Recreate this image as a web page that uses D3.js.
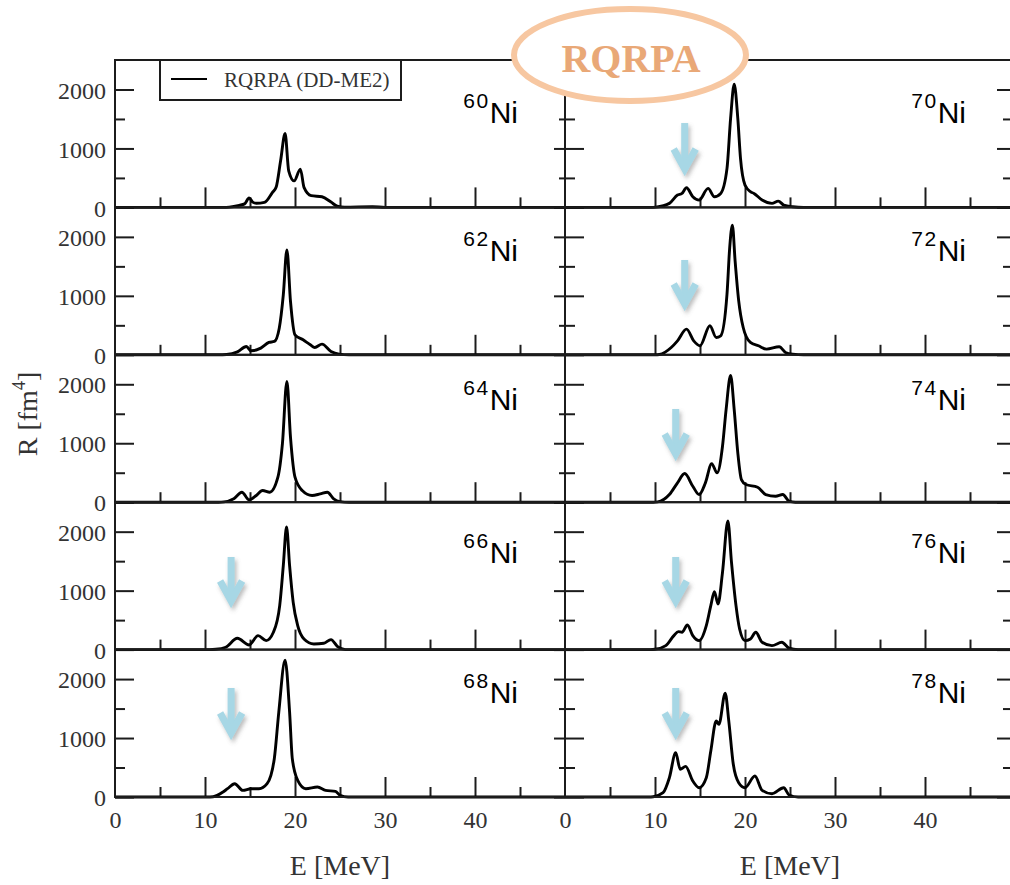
<!DOCTYPE html>
<html>
<head>
<meta charset="utf-8">
<script src="https://cdn.jsdelivr.net/npm/d3@7"></script>
<style>
  html, body { margin: 0; padding: 0; background: #fff; }
  svg { display: block; }
</style>
</head>
<body>
<svg id="chart" width="1010" height="885"></svg>
<script>
// ---- data ---------------------------------------------------------------
// Mass numbers of the Ni isotopes (left column 60-68, right column 70-78)
const massNumbers = ["60", "62", "64", "66", "68", "70", "72", "74", "76", "78"];

// Strength functions R(E) as [E (MeV), R (fm^4)] pairs
const ni60 = [[0,0],[12.0,0],[12.7,5],[13.8,35],[14.4,60],[14.9,160],[15.3,90],[15.7,70],[16.6,85],[17.5,255],[17.9,340],[18.4,790],[18.9,1255],[19.3,620],[19.9,450],[20.6,650],[21.0,340],[21.8,200],[23.0,180],[24.0,90],[24.7,20],[25.5,5],[28.6,12],[30,0],[50,0]];
const ni62 = [[0,0],[11.5,0],[12.4,5],[13.6,50],[14.6,141],[15.1,68],[16.2,113],[17.1,209],[17.7,226],[18.25,452],[18.7,1017],[19.1,1780],[19.5,904],[20.0,339],[20.9,254],[21.7,170],[22.2,124],[23.0,181],[24.0,56],[24.9,11],[26,0],[50,0]];
const ni64 = [[0,0],[11.5,0],[12.1,5],[13.2,60],[14.1,170],[14.9,40],[15.7,113],[16.4,198],[17.2,170],[18.1,424],[18.6,989],[19.1,2050],[19.5,1100],[20.0,424],[20.8,198],[21.9,113],[22.8,141],[23.6,170],[24.3,56],[25.0,10],[26,0],[50,0]];
const ni66 = [[0,0],[10.5,0],[11.2,5],[12.3,40],[13.6,192],[14.9,79],[15.9,237],[16.8,153],[17.6,294],[18.3,746],[18.7,1424],[19.06,2080],[19.4,1424],[19.8,802],[20.3,407],[21.0,181],[22.1,96],[23.2,107],[24.0,170],[24.7,56],[25.6,0],[50,0]];
const ni68 = [[0,0],[10.2,0],[10.9,5],[12.0,85],[12.5,141],[13.3,226],[14.2,113],[15.1,141],[16.0,141],[16.9,226],[17.7,650],[18.2,1441],[18.9,2320],[19.4,1441],[19.7,650],[20.3,282],[21.2,141],[22.5,170],[23.4,113],[24.5,96],[25.0,28],[25.9,0],[50,0]];
const ni70 = [[0,0],[9.5,0],[10.1,5],[11.6,68],[12.5,209],[13.0,237],[13.5,333],[14.2,181],[14.9,124],[15.9,322],[16.6,181],[17.3,237],[18.0,661],[18.4,1508],[18.8,2090],[19.2,1508],[19.5,830],[20.0,378],[20.6,266],[21.0,237],[21.9,124],[23.0,68],[23.7,107],[24.3,40],[25.3,11],[26.5,0],[50,0]];
const ni72 = [[0,0],[10.0,0],[10.5,5],[11.8,124],[12.5,237],[13.5,435],[14.3,237],[15.0,153],[16.1,492],[16.8,294],[17.3,322],[18.0,1028],[18.3,1819],[18.6,2200],[18.9,1593],[19.3,915],[19.8,463],[20.6,209],[21.5,153],[22.4,96],[23.8,136],[24.5,40],[25.3,11],[26.5,0],[50,0]];
const ni74 = [[0,0],[9.8,0],[10.3,5],[11.6,130],[12.5,328],[13.3,486],[14.2,271],[14.9,130],[15.6,328],[16.3,655],[16.9,497],[17.5,949],[17.9,1571],[18.4,2150],[18.8,1571],[19.2,836],[19.6,384],[20.1,300],[21.4,254],[22.3,130],[23.4,102],[24.2,130],[24.9,17],[25.6,0],[50,0]];
const ni76 = [[0,0],[9.5,0],[10.0,5],[11.2,68],[12.1,237],[12.6,305],[13.0,294],[13.6,418],[14.2,237],[14.9,153],[15.7,407],[16.2,746],[16.6,983],[17.0,774],[17.5,1311],[18.1,2180],[18.5,1480],[19.0,746],[19.4,350],[20.0,153],[20.6,181],[21.2,294],[21.9,124],[23.0,68],[24.1,124],[24.9,23],[25.9,0],[50,0]];
const ni78 = [[0,0],[9.3,0],[9.8,5],[10.9,73],[11.6,328],[12.3,751],[12.8,470],[13.4,520],[14.2,271],[14.9,158],[15.7,328],[16.2,780],[16.8,1288],[17.1,1232],[17.8,1760],[18.2,1288],[18.7,554],[19.3,243],[20.0,158],[21.1,356],[21.9,113],[23.0,56],[24.3,158],[24.9,34],[25.9,0],[50,0]];
const spectra = [ni60, ni62, ni64, ni66, ni68, ni70, ni72, ni74, ni76, ni78];

// Highlighted low-lying strength: arrow energy and its span in R (null = none)
const arrowEnergy = [null, null, null, 12.9, 12.9, 13.3, 13.3, 12.3, 12.3, 12.3];
const arrowTipR   = [null, null, null, 756, 1018, 583, 794, 750, 756, 1018];
const arrowTailR  = [null, null, null, 1571, 1849, 1431, 1608, 1581, 1571, 1849];

// Axis ticks
const energyMajor = [10, 20, 30, 40];
const energyMinor = [5, 15, 25, 35, 45];
const energyLabels = [0, 10, 20, 30, 40];
const strengthMajor = [0, 1000, 2000];
const strengthMinor = [500, 1500];

// ---- layout -------------------------------------------------------------
const svg = d3.select("#chart");
const colLeft = [115, 565];
const panelW = 450, panelH = 147.4, top0 = 60;
const labelBaseline = [123, 261, 410, 563, 703];
const serif = "'Liberation Serif', 'Times New Roman', serif";
const sans = "'Liberation Sans', Arial, sans-serif";
const ink = "#1c1c1c";

const defs = svg.append("defs");
const shadow = defs.append("filter").attr("id", "arrowShadow")
  .attr("x", "-50%").attr("y", "-50%").attr("width", "200%").attr("height", "200%");
shadow.append("feDropShadow").attr("dx", 2).attr("dy", 3).attr("stdDeviation", 2)
  .attr("flood-color", "#6b6b6b").attr("flood-opacity", 0.45);

const soft = defs.append("filter").attr("id", "soft");
soft.append("feGaussianBlur").attr("stdDeviation", 0.45);

function tickStyle(g) {
  g.select(".domain").remove();
  g.selectAll(".tick text").remove();
  g.selectAll(".tick line").attr("stroke", ink).attr("stroke-width", 2);
}

const lineGen = d3.line().curve(d3.curveMonotoneX);

massNumbers.forEach((A, i) => {
  const col = i < 5 ? 0 : 1;
  const row = i % 5;
  const x0 = colLeft[col];
  const y0 = top0 + row * panelH;
  const x = d3.scaleLinear().domain([0, 50]).range([x0, x0 + panelW]);
  const y = d3.scaleLinear().domain([0, 2500]).range([y0 + panelH, y0]);
  const g = svg.append("g").attr("class", "panel");

  // inward ticks on all four sides except the top
  g.append("g").attr("transform", `translate(${x0},0)`)
    .call(d3.axisRight(y).tickValues(strengthMajor).tickSize(19)).call(tickStyle);
  g.append("g").attr("transform", `translate(${x0},0)`)
    .call(d3.axisRight(y).tickValues(strengthMinor).tickSize(10)).call(tickStyle);
  const rMaj = col === 0 ? 11 : 18, rMin = col === 0 ? 6 : 12;
  g.append("g").attr("transform", `translate(${x0 + panelW},0)`)
    .call(d3.axisLeft(y).tickValues(strengthMajor).tickSize(rMaj)).call(tickStyle);
  g.append("g").attr("transform", `translate(${x0 + panelW},0)`)
    .call(d3.axisLeft(y).tickValues(strengthMinor).tickSize(rMin)).call(tickStyle);
  g.append("g").attr("transform", `translate(0,${y(0)})`)
    .call(d3.axisTop(x).tickValues(energyMajor).tickSize(20)).call(tickStyle);
  g.append("g").attr("transform", `translate(0,${y(0)})`)
    .call(d3.axisTop(x).tickValues(energyMinor).tickSize(10)).call(tickStyle);

  // strength curve
  g.append("path").datum(spectra[i])
    .attr("d", lineGen.x(d => x(d[0])).y(d => y(d[1])))
    .attr("fill", "none").attr("stroke", "#000").attr("stroke-width", 2.9)
    .attr("stroke-linejoin", "round").attr("filter", "url(#soft)");

  // panel frame
  g.append("rect").attr("x", x0).attr("y", y0).attr("width", panelW).attr("height", panelH)
    .attr("fill", "none").attr("stroke", ink).attr("stroke-width", 2);

  // y tick labels on the left column
  if (col === 0) {
    const ax = g.append("g").attr("transform", `translate(${x0},0)`)
      .call(d3.axisLeft(y).tickValues(strengthMajor).tickSize(0).tickPadding(9).tickFormat(d3.format("d")));
    ax.select(".domain").remove();
    ax.selectAll(".tick text").attr("font-family", serif).attr("font-size", 24)
      .attr("fill", "#333").attr("dy", "0.36em");
  }
  // energy labels on the bottom row
  if (row === 4) {
    const ax = g.append("g").attr("transform", `translate(0,${y(0)})`)
      .call(d3.axisBottom(x).tickValues(energyLabels).tickSize(0).tickPadding(14).tickFormat(d3.format("d")));
    ax.select(".domain").remove();
    ax.selectAll(".tick text").attr("font-family", serif).attr("font-size", 24).attr("fill", "#333");
    g.append("text").attr("x", x(25)).attr("y", 875).attr("text-anchor", "middle")
      .attr("font-family", serif).attr("font-size", 28).attr("fill", "#333").text("E [MeV]");
  }

  // isotope label
  const lbl = g.append("text").attr("x", x0 + panelW - (col === 0 ? 47 : 49))
    .attr("y", labelBaseline[row]).attr("text-anchor", "end")
    .attr("font-family", sans).attr("fill", "#000");
  lbl.append("tspan").attr("font-size", 21).attr("letter-spacing", 1.5).attr("dy", -15).text(A);
  lbl.append("tspan").attr("font-size", 30).attr("dy", 15).text("Ni");

  // arrow marking the low-lying strength
  if (arrowEnergy[i] !== null) {
    const ax = x(arrowEnergy[i]);
    const tip = y(arrowTipR[i]), tail = y(arrowTailR[i]);
    const a = g.append("g").attr("filter", "url(#arrowShadow)")
      .attr("stroke", "#a7d7e5").attr("stroke-width", 7).attr("fill", "none");
    a.append("line").attr("x1", ax).attr("x2", ax).attr("y1", tail).attr("y2", tip - 4);
    a.append("path").attr("d", `M${ax - 11},${tip - 24} L${ax},${tip - 4} L${ax + 11},${tip - 24}`)
      .attr("stroke-linejoin", "miter");
  }
});

// y axis title
svg.append("text").attr("transform", "translate(37,414) rotate(-90)")
  .attr("text-anchor", "middle").attr("font-family", serif).attr("font-size", 28).attr("fill", "#333")
  .call(t => {
    t.append("tspan").text("R [fm");
    t.append("tspan").attr("font-size", 18).attr("dy", -12).text("4");
    t.append("tspan").attr("dy", 12).text("]");
  });

// legend
const leg = svg.append("g");
leg.append("rect").attr("x", 160).attr("y", 60).attr("width", 241).attr("height", 40)
  .attr("fill", "#fff").attr("stroke", ink).attr("stroke-width", 2);
leg.append("line").attr("x1", 171).attr("x2", 207).attr("y1", 79).attr("y2", 79)
  .attr("stroke", "#000").attr("stroke-width", 2);
leg.append("text").attr("x", 224).attr("y", 87).attr("font-family", serif)
  .attr("font-size", 21).attr("fill", "#333").text("RQRPA (DD-ME2)");

// method badge
svg.append("ellipse").attr("cx", 630).attr("cy", 55).attr("rx", 116).attr("ry", 46)
  .attr("fill", "#fff").attr("stroke", "#f7c7a1").attr("stroke-width", 6);
svg.append("text").attr("x", 631).attr("y", 72).attr("text-anchor", "middle")
  .attr("font-family", serif).attr("font-weight", "bold").attr("font-size", 40)
  .attr("fill", "#e9a877").text("RQRPA");
</script>
</body>
</html>
